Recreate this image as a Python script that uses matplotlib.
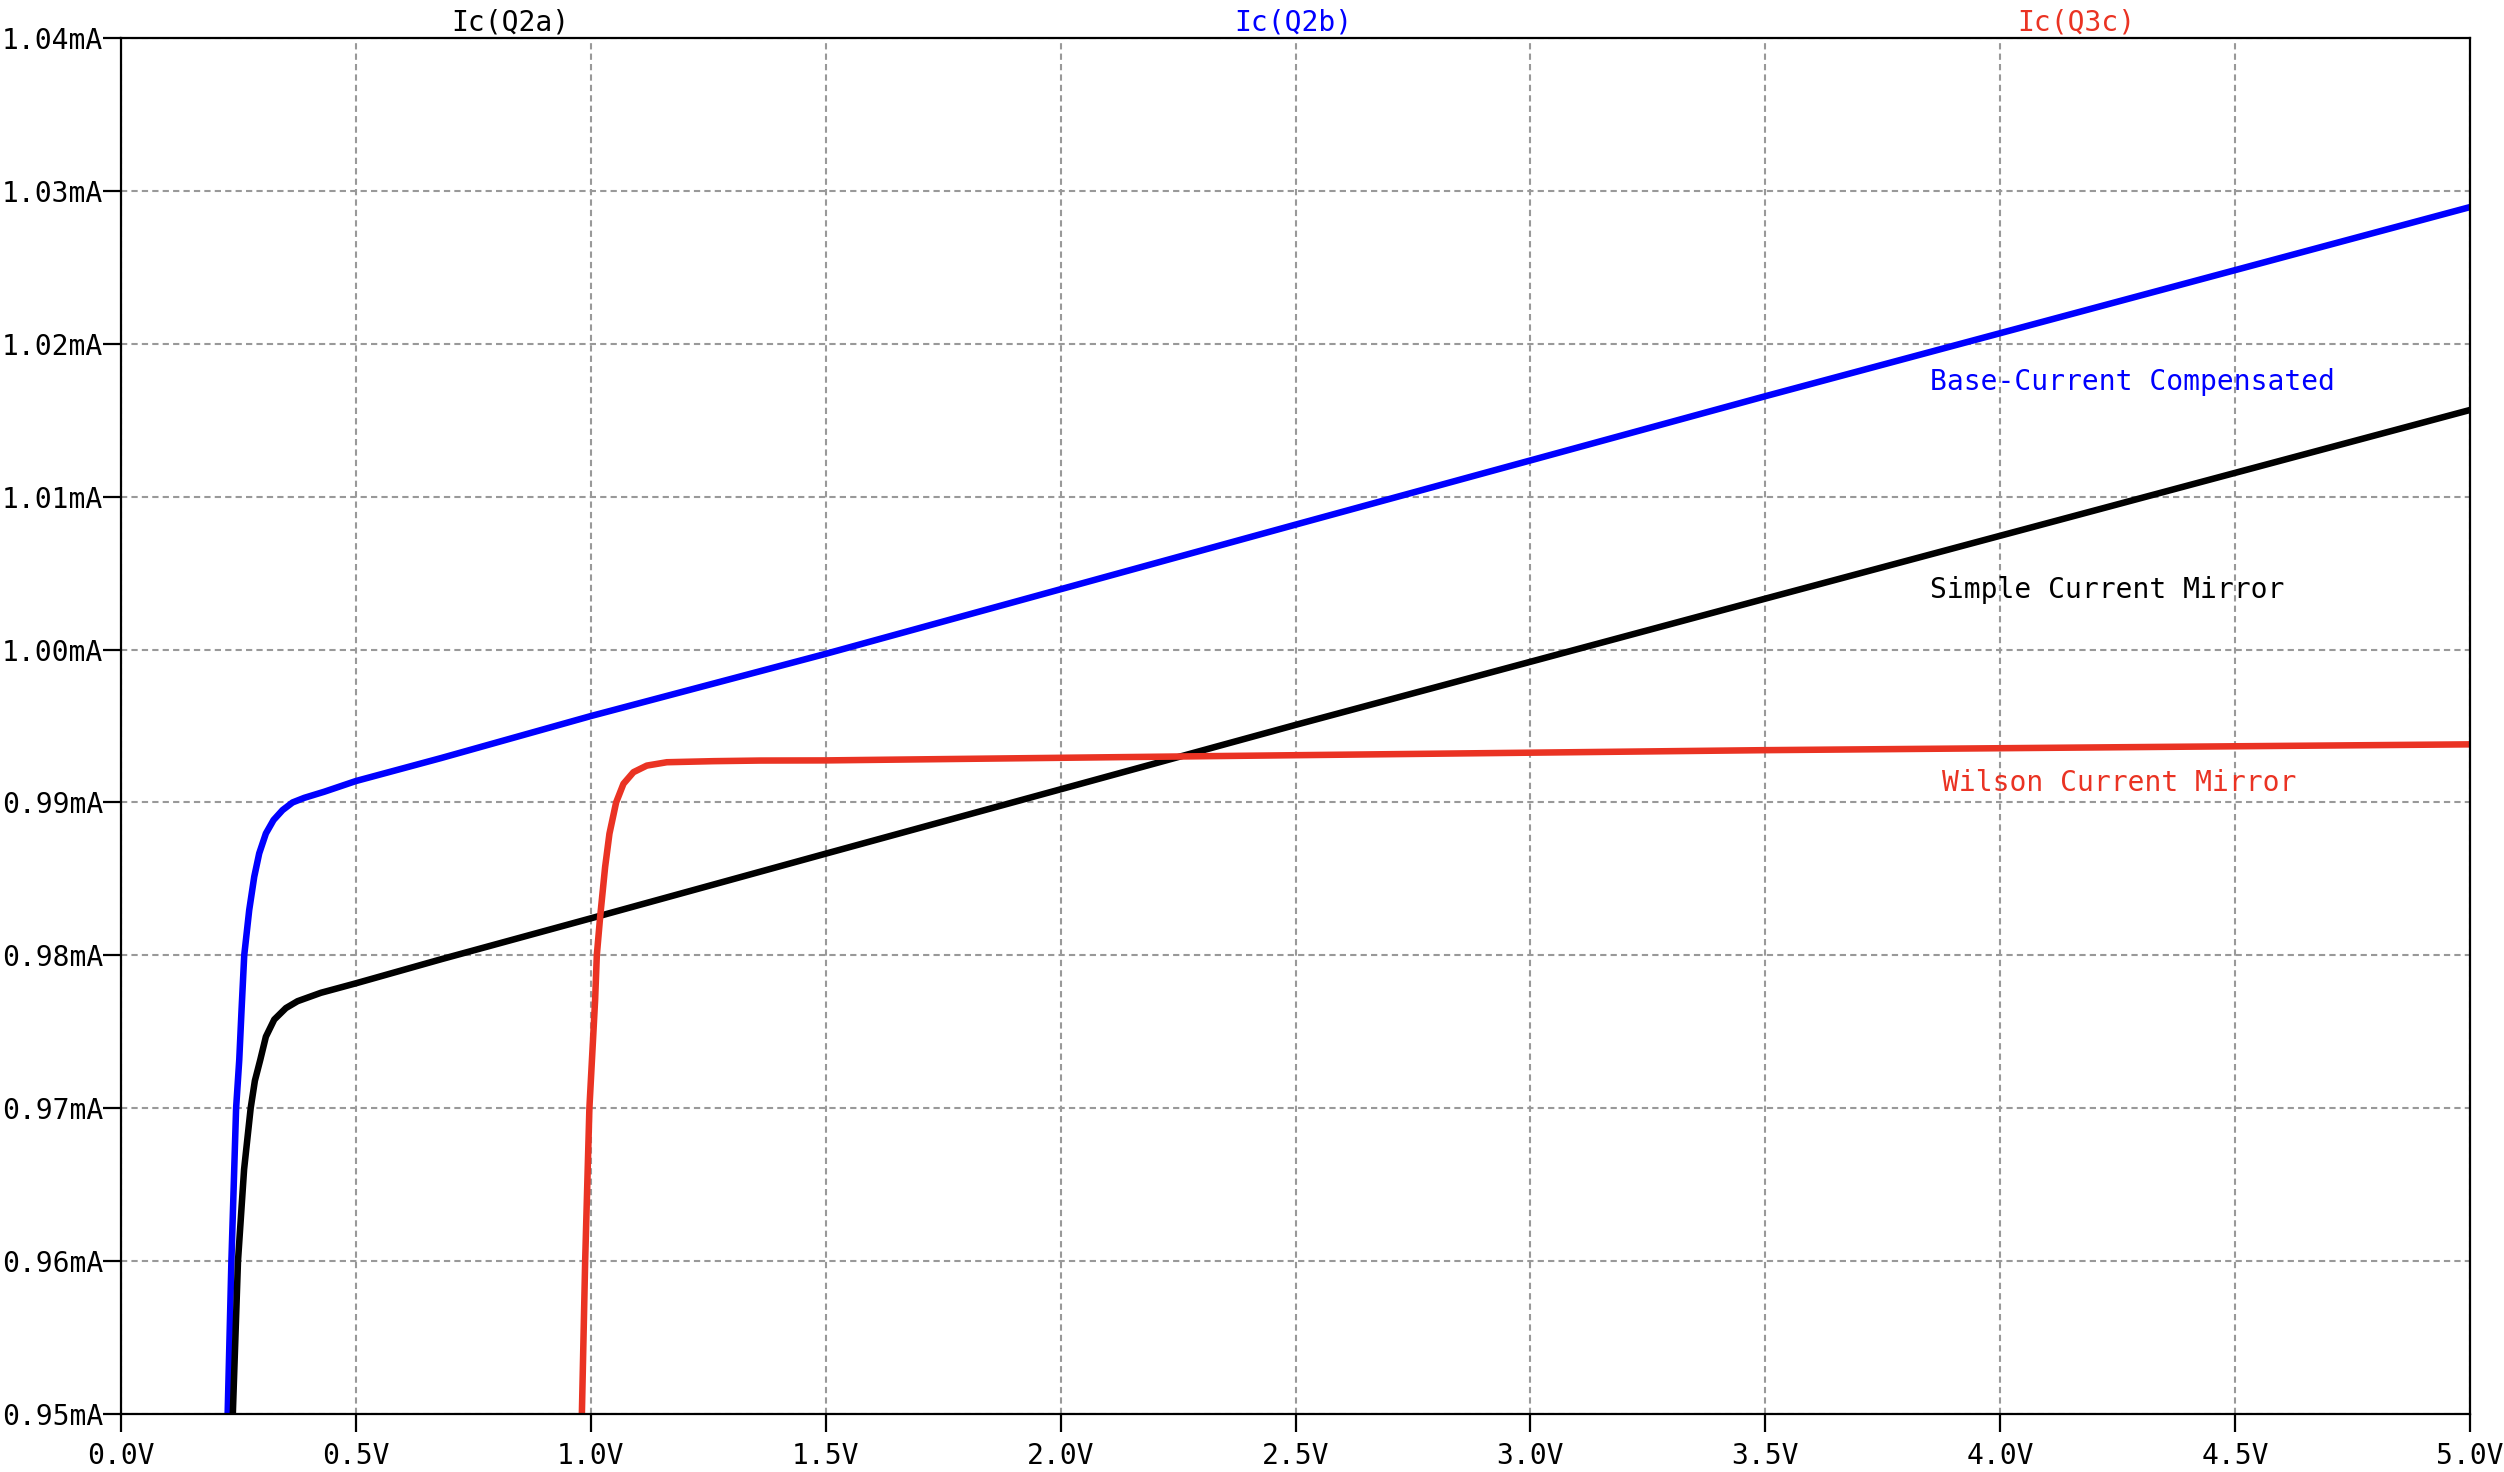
import matplotlib
matplotlib.use("Agg")
import matplotlib.pyplot as plt
from matplotlib.ticker import MultipleLocator, FuncFormatter

plt.rcParams['font.family'] = 'DejaVu Sans Mono'

# Ic(Q2b) - base-current compensated mirror (V, mA)
v_comp = [0.227, 0.235, 0.245, 0.2517, 0.2566, 0.2623, 0.2729, 0.2836, 0.2942,
          0.3084, 0.3247, 0.3439, 0.3652, 0.39, 0.4326, 0.5, 0.681, 1.0, 1.5,
          2.5, 3.5, 5.0]
i_comp = [0.950, 0.960, 0.970, 0.97316, 0.97643, 0.980, 0.98296, 0.98514, 0.98667,
          0.98797, 0.98885, 0.9895, 0.990, 0.9903, 0.9907, 0.9914, 0.9929, 0.99565, 0.99972,
          1.00817, 1.01657, 1.02894]

# Ic(Q2a) - simple current mirror
v_simple = [0.238, 0.249, 0.262, 0.276, 0.285, 0.2964, 0.3084, 0.3262, 0.351, 0.3758,
            0.4255, 0.5, 0.681, 1.0, 1.5, 2.5, 3.5, 5.0]
i_simple = [0.950, 0.960, 0.966, 0.970, 0.9718, 0.97316, 0.97468, 0.9758, 0.97655, 0.9770,
            0.97755, 0.97817, 0.97974, 0.98242, 0.98665, 0.99507, 1.00333, 1.01567]

# Ic(Q3c) - Wilson current mirror
v_wilson = [0.981, 0.988, 0.997, 1.0092, 1.0128, 1.0199, 1.0305, 1.0397, 1.0539,
            1.0695, 1.0908, 1.1192, 1.1618, 1.2611, 1.3604, 1.5, 2.5, 3.5, 5.0]
i_wilson = [0.950, 0.960, 0.970, 0.97709, 0.980, 0.98252, 0.98578, 0.98796, 0.990,
            0.99122, 0.99198, 0.99241, 0.99263, 0.9927, 0.99274, 0.99275, 0.99309, 0.99342, 0.99380]

blue = '#0000ff'
red = '#ea3323'
fs = 20.2

fig = plt.figure(figsize=(25.04, 14.72), dpi=100)
ax = fig.add_axes([121 / 2504, 1 - 1414 / 1472, 2349 / 2504, 1376 / 1472])

ax.plot(v_comp, i_comp, color=blue, lw=4.7, solid_joinstyle='round')
ax.plot(v_simple, i_simple, color='black', lw=4.7, solid_joinstyle='round')
ax.plot(v_wilson, i_wilson, color=red, lw=4.7, solid_joinstyle='round')

ax.set_xlim(0, 5)
ax.set_ylim(0.95, 1.04)
ax.xaxis.set_major_locator(MultipleLocator(0.5))
ax.yaxis.set_major_locator(MultipleLocator(0.01))
ax.xaxis.set_major_formatter(FuncFormatter(lambda v, p: f"{v:.1f}V"))
ax.yaxis.set_major_formatter(FuncFormatter(lambda v, p: f"{v:.2f}mA"))
ax.tick_params(axis='both', direction='out', length=13, width=1.6,
               labelsize=fs, colors='black')
ax.tick_params(axis='y', pad=0)
ax.tick_params(axis='x', pad=7)

ax.grid(True, color='#999999', lw=1.5, linestyle=(0, (3, 2)))
for s in ax.spines.values():
    s.set_linewidth(1.6)
    s.set_color('black')

ax.text(3.85, 1.01751, "Base-Current Compensated", color=blue, fontsize=fs,
        ha='left', va='center')
ax.text(3.85, 1.00389, "Simple Current Mirror", color='black', fontsize=fs,
        ha='left', va='center')
ax.text(3.877, 0.99129, "Wilson Current Mirror", color=red, fontsize=fs,
        ha='left', va='center')

# trace names above the plot
fig.text(510 / 2504, 1 - 22 / 1472, "Ic(Q2a)", color='black', fontsize=fs,
         ha='center', va='center')
fig.text(1293 / 2504, 1 - 22 / 1472, "Ic(Q2b)", color=blue, fontsize=fs,
         ha='center', va='center')
fig.text(2076 / 2504, 1 - 22 / 1472, "Ic(Q3c)", color=red, fontsize=fs,
         ha='center', va='center')

fig.savefig("out.png", dpi=100, facecolor='white')
